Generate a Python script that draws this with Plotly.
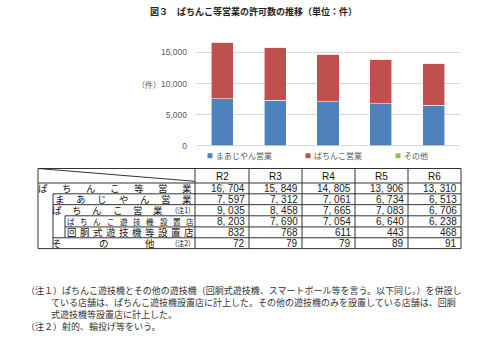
import plotly.graph_objects as go

# ---- data ----
years = ["R2", "R3", "R4", "R5", "R6"]
mahjong = [7597, 7312, 7061, 6734, 6513]          # まあじやん営業
pachinko = [9035, 8458, 7665, 7083, 6706]         # ぱちんこ営業
other = [72, 79, 79, 89, 91]                      # その他
total = [16704, 15849, 14805, 13906, 13310]       # ぱちんこ等営業
pachinko_parlor = [8203, 7690, 7054, 6640, 6238]  # ぱちんこ遊技機設置店
slot_parlor = [832, 768, 611, 443, 468]           # 回胴式遊技機等設置店

series_names = ["まあじやん営業", "ぱちんこ営業", "その他"]
series_colors = ["#4F81BD", "#C0504D", "#9BBB59"]

title_text = "図３　ぱちんこ等営業の許可数の推移（単位：件）"
notes = [
    "（注１）ぱちんこ遊技機とその他の遊技機（回胴式遊技機、スマートボール等を言う。以下同じ。）を併設し",
    "ている店舗は、ぱちんこ遊技機設置店に計上した。その他の遊技機のみを設置している店舗は、回胴",
    "式遊技機等設置店に計上した。",
    "（注２）射的、輪投げ等をいう。",
]

W, H = 500, 342


def px(x):
    return x / W


def py(y):
    return 1 - y / H


JP = "Noto Sans CJK JP"
NUM = "Liberation Sans Narrow, Arial Narrow, sans-serif"

fig = go.Figure()
for name, vals, col in zip(series_names, [mahjong, pachinko, other], series_colors):
    fig.add_trace(go.Bar(
        x=years, y=vals, name=name,
        marker=dict(color=col, line=dict(color="rgba(255,255,255,0.7)", width=0.8)),
        showlegend=False,
    ))

annotations = []
shapes = []


def label(text, x, y, size, color="#111", family=JP, xanchor="center", height=None):
    ann = dict(text=text, x=px(x), y=py(y), xref="paper", yref="paper",
               xanchor=xanchor, yanchor="middle", showarrow=False,
               borderpad=0, font=dict(family=family, size=size, color=color))
    if height is not None:
        ann["height"] = height
        ann["valign"] = "middle"
    annotations.append(ann)


# title
label("<b>" + title_text + "</b>", 253, 12, 9, "#222")
# y-axis unit
label("（件）", 149, 86, 8, "#595959")

# legend drawn by hand
legend_pos = [210, 308, 398]
for name, col, lx in zip(series_names, series_colors, legend_pos):
    shapes.append(dict(type="rect", xref="paper", yref="paper",
                       x0=px(lx - 2.5), x1=px(lx + 2.5), y0=py(160.5), y1=py(155.5),
                       fillcolor=col, line=dict(width=0)))
    label(name, lx + 5, 158, 8, "#595959", xanchor="left")

# ---- table ----
col_edges = [195, 249, 302, 355, 408, 461]
L0, L1, L2 = 38, 53, 65
hlines = [171, 185.7, 196.7, 207.7, 219, 230.3, 241.3, 252.3]
hstarts = [L0, L0, L1, L1, L2, L2, L1, L0]
line = dict(color="#333", width=1)


def seg(x0, y0, x1, y1):
    shapes.append(dict(type="line", xref="paper", yref="paper",
                       x0=px(x0), x1=px(x1), y0=py(y0), y1=py(y1), line=line))


for yv, xs in zip(hlines, hstarts):
    seg(xs, yv, col_edges[-1], yv)
for xv in col_edges:
    seg(xv, hlines[0], xv, hlines[-1])
seg(L0, hlines[0], L0, hlines[-1])
seg(L1, hlines[2], L1, hlines[-1])
seg(L2, hlines[4], L2, hlines[6])
# header diagonal
seg(L0, hlines[0], col_edges[0], 184)

row_centers = [(hlines[i] + hlines[i + 1]) / 2 for i in range(len(hlines) - 1)]
CELL_H = 10

# column headers
for i, yr in enumerate(years):
    cx = (col_edges[i] + col_edges[i + 1]) / 2
    label(yr, cx, row_centers[0], 10, family=NUM, height=CELL_H)

# row labels: characters spread evenly between first and last glyph centres
row_labels = [
    ("ぱちんこ等営業", 43, 187, 9.5, None),
    ("まあじやん営業", 60, 187, 9.5, None),
    ("ぱちんこ営業", 57, 158, 9.5, "(注1)"),
    ("ぱちんこ遊技機設置店", 71, 190, 7.5, None),
    ("回胴式遊技機等設置店", 72, 189, 9.5, None),
    ("その他", 57, 150, 9.5, "(注2)"),
]
for r, (text, x0, x1, size, suffix) in enumerate(row_labels):
    yc = row_centers[r + 1]
    n = len(text)
    step = (x1 - x0) / (n - 1)
    for k, ch in enumerate(text):
        label(ch, x0 + k * step, yc, size, height=CELL_H)
    if suffix:
        label(suffix, 192, yc, 7, xanchor="right", height=CELL_H)

# numeric cells
table_rows = [total, mahjong, pachinko, pachinko_parlor, slot_parlor, other]
for r, vals in enumerate(table_rows):
    yc = row_centers[r + 1]
    for i, v in enumerate(vals):
        label(f"{v:,}".replace(",", ", "), col_edges[i + 1] - 3, yc, 10,
              color="#222", family=NUM, xanchor="right", height=CELL_H)

# notes
note_pos = [(25, 295), (50, 307.3), (50, 319.2), (25, 331.5)]
for txt, (nx, ny) in zip(notes, note_pos):
    label(txt, nx, ny, 9, "#333", xanchor="left")

fig.update_layout(
    width=W, height=H,
    margin=dict(l=0, r=0, t=0, b=0),
    paper_bgcolor="white", plot_bgcolor="white",
    barmode="stack", bargap=0.58,
    showlegend=False,
    xaxis=dict(domain=[px(196), px(460)], showticklabels=False, showgrid=False,
               zeroline=False, showline=False, range=[-0.5, 4.5], fixedrange=True),
    yaxis=dict(domain=[py(148), py(28)], range=[0, 19000], dtick=5000,
               tickformat=",", showgrid=True, gridcolor="#D9D9D9", gridwidth=1,
               zeroline=True, zerolinecolor="#D9D9D9", zerolinewidth=1,
               showline=False, ticks="", ticklabelstandoff=8,
               tickfont=dict(family="Liberation Sans, Arial", size=8.5, color="#595959")),
    annotations=annotations,
    shapes=shapes,
)

fig.write_html("out.html")
